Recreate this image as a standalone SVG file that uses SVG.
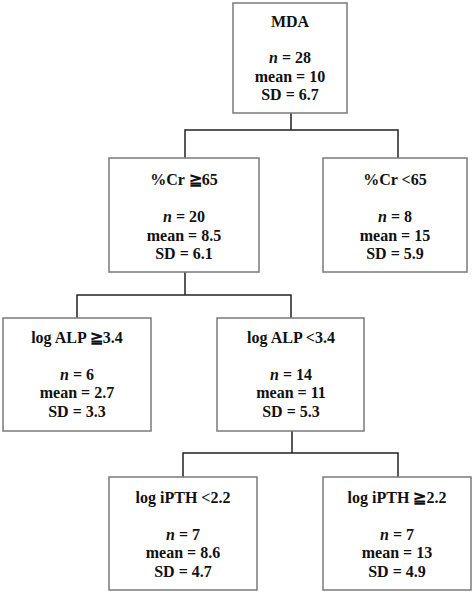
<svg xmlns="http://www.w3.org/2000/svg" width="474" height="593" viewBox="0 0 474 593">
<style>
.box{fill:#fff;stroke:#7a7a7a;stroke-width:1.5}
.conn{fill:none;stroke:#222;stroke-width:1.5}
.t{font-family:'Liberation Serif','DejaVu Serif',serif;font-weight:bold;font-size:16px;fill:#111;text-anchor:middle}
.i{font-style:italic}
</style>
<rect width="474" height="593" fill="#fff"/>
<g id="connectors">
<path class="conn" d="M291,113 V130 M185,158 V130 H398 V158"/>
<path class="conn" d="M185,272 V295 M77,318 V295 H291 V318"/>
<path class="conn" d="M292,431 V453 M183,477 V453 H398 V477"/>
</g>
<g id="n-root" class="t">
<rect class="box" x="233" y="3" width="114" height="110"/>
<text x="290" y="27">MDA</text>
<text x="290" y="63"><tspan class="i">n</tspan> = 28</text>
<text x="290" y="82">mean = 10</text>
<text x="290" y="100">SD = 6.7</text>
</g>
<g id="n-cr-ge" class="t">
<rect class="box" x="109" y="158" width="150" height="114"/>
<text x="184" y="185">%Cr ≧65</text>
<text x="184" y="222"><tspan class="i">n</tspan> = 20</text>
<text x="184" y="241">mean = 8.5</text>
<text x="184" y="259">SD = 6.1</text>
</g>
<g id="n-cr-lt" class="t">
<rect class="box" x="323" y="158" width="144" height="114"/>
<text x="395" y="185">%Cr &lt;65</text>
<text x="395" y="222"><tspan class="i">n</tspan> = 8</text>
<text x="395" y="241">mean = 15</text>
<text x="395" y="259">SD = 5.9</text>
</g>
<g id="n-alp-ge" class="t">
<rect class="box" x="3" y="318" width="148" height="113"/>
<text x="77" y="343">log ALP ≧3.4</text>
<text x="77" y="380"><tspan class="i">n</tspan> = 6</text>
<text x="77" y="398">mean = 2.7</text>
<text x="77" y="417">SD = 3.3</text>
</g>
<g id="n-alp-lt" class="t">
<rect class="box" x="217" y="318" width="147" height="113"/>
<text x="291" y="343">log ALP &lt;3.4</text>
<text x="291" y="380"><tspan class="i">n</tspan> = 14</text>
<text x="291" y="398">mean = 11</text>
<text x="291" y="417">SD = 5.3</text>
</g>
<g id="n-pth-lt" class="t">
<rect class="box" x="109" y="477" width="148" height="113"/>
<text x="183" y="503">log iPTH &lt;2.2</text>
<text x="183" y="540"><tspan class="i">n</tspan> = 7</text>
<text x="183" y="558">mean = 8.6</text>
<text x="183" y="577">SD = 4.7</text>
</g>
<g id="n-pth-ge" class="t">
<rect class="box" x="323" y="477" width="148" height="113"/>
<text x="397" y="503">log iPTH ≧2.2</text>
<text x="397" y="540"><tspan class="i">n</tspan> = 7</text>
<text x="397" y="558">mean = 13</text>
<text x="397" y="577">SD = 4.9</text>
</g>
</svg>
